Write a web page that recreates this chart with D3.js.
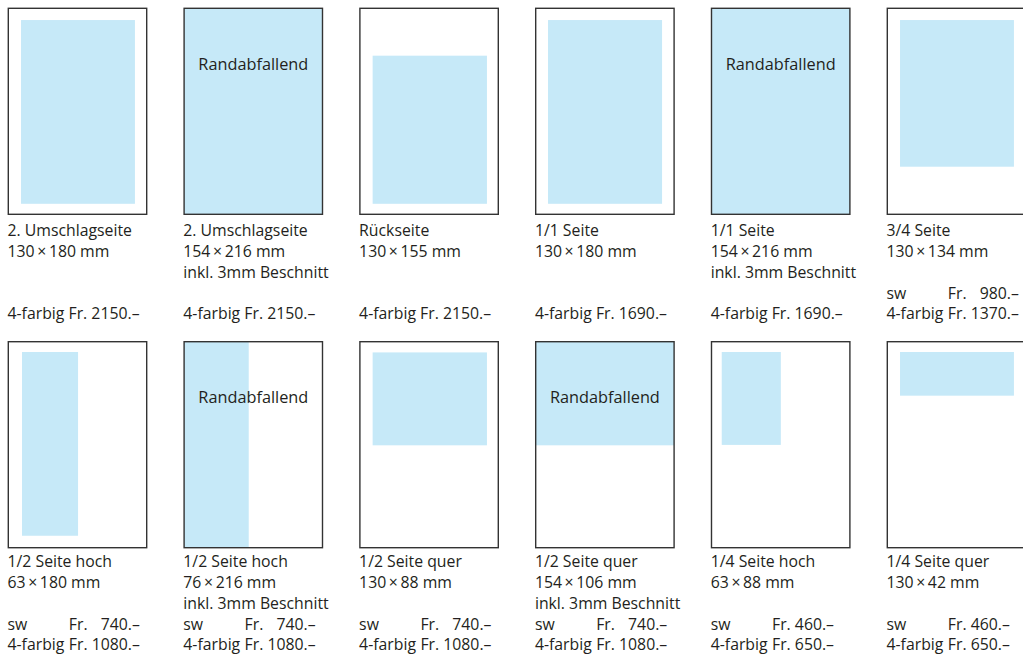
<!DOCTYPE html>
<html>
<head>
<meta charset="utf-8">
<script src="https://cdn.jsdelivr.net/npm/d3@7"></script>
<style>
  body { margin: 0; background: #fff; }
  text { font-family: "Open Sans", "Noto Sans", sans-serif; fill: #231f20; font-variant-numeric: tabular-nums; }
</style>
</head>
<body>
<script>
// ad formats, read row by row
var titles = ["2. Umschlagseite", "2. Umschlagseite", "Rückseite", "1/1 Seite", "1/1 Seite", "3/4 Seite",
              "1/2 Seite hoch", "1/2 Seite hoch", "1/2 Seite quer", "1/2 Seite quer", "1/4 Seite hoch", "1/4 Seite quer"];
var sizes = ["130×180", "154×216", "130×155", "130×180", "154×216", "130×134",
             "63×180", "76×216", "130×88", "154×106", "63×88", "130×42"];
var bleed = [false, true, false, false, true, false,
             false, true, false, true, false, false];
var swPrices = [null, null, null, null, null, "980.–",
                "740.–", "740.–", "740.–", "740.–", "460.–", "460.–"];
var colorPrices = ["2150.–", "2150.–", "2150.–", "1690.–", "1690.–", "1370.–",
                   "1080.–", "1080.–", "1080.–", "1080.–", "650.–", "650.–"];
// ad area on the page drawing, as share of page [left, top, right, bottom]
var adArea = [
  [0.092, 0.057, 0.915, 0.949], [0, 0, 1, 1], [0.092, 0.230, 0.918, 0.949],
  [0.089, 0.057, 0.913, 0.949], [0, 0, 1, 1], [0.092, 0.057, 0.915, 0.769],
  [0.099, 0.050, 0.504, 0.942], [0, 0, 0.467, 1], [0.092, 0.052, 0.918, 0.503],
  [0, 0, 1, 0.503], [0.074, 0.050, 0.501, 0.501], [0.092, 0.050, 0.915, 0.262]
];

var W = 1023, H = 655;
var pageW = 138.4, pageH = 206;

var svg = d3.select("body").append("svg")
    .attr("width", W)
    .attr("height", H);

var items = titles.map(function(t, i) {
  return {i: i, row: Math.floor(i / 6), title: t, size: sizes[i], bleed: bleed[i],
          sw: swPrices[i], color: colorPrices[i], area: adArea[i]};
});

// grid
var col = d3.scaleBand().domain(d3.range(6)).range([8.3, 1025.7]).paddingInner(0.2127);
var row = d3.scaleBand().domain(d3.range(2)).range([8.3, 675.1]);

// inside a page
var px = d3.scaleLinear().domain([0, 1]).range([0, pageW]);
var py = d3.scaleLinear().domain([0, 1]).range([0, pageH]);

var cards = svg.selectAll("g.card")
    .data(items)
  .enter().append("g")
    .attr("class", "card")
    .attr("transform", function(d) {
      return "translate(" + col(d.i % 6) + "," + row(d.row) + ")";
    });

cards.append("rect")
    .attr("x", function(d) { return px(d.area[0]); })
    .attr("y", function(d) { return py(d.area[1]); })
    .attr("width", function(d) { return px(d.area[2]) - px(d.area[0]); })
    .attr("height", function(d) { return py(d.area[3]) - py(d.area[1]); })
    .attr("fill", "#c6e9f8");

cards.append("rect")
    .attr("width", pageW)
    .attr("height", pageH)
    .attr("fill", "none")
    .attr("stroke", "#333")
    .attr("stroke-width", 1.4);

cards.filter(function(d) { return d.bleed; })
  .append("text")
    .attr("x", pageW / 2)
    .attr("y", 61.5)
    .attr("text-anchor", "middle")
    .style("font-size", "16.3px")
    .text("Randabfallend");

// caption lines below the page (second row sits a bit tighter)
var lineY = [228.2, 249.2, 269.8, 290.5, 311];
var rowShift = [0, -2.5];
var fs = "15.8px";
function ly(k) { return function(d) { return lineY[k] + rowShift[d.row]; }; }

var caption = cards.append("g").attr("class", "caption");

caption.append("text")
    .attr("x", -0.8).attr("y", ly(0))
    .style("font-size", fs)
    .text(function(d) { return d.title; });

caption.append("text")
    .attr("x", -0.8).attr("y", ly(1))
    .style("font-size", fs)
    .text(function(d) { return d.size.replace("×", "\u2009×\u2009") + " mm"; });

caption.filter(function(d) { return d.bleed; })
  .append("text")
    .attr("x", -0.8).attr("y", ly(2))
    .style("font-size", fs)
    .text("inkl. 3mm Beschnitt");

// only one price
caption.filter(function(d) { return !d.sw; })
  .append("text")
    .attr("x", -0.8).attr("y", ly(4))
    .style("font-size", fs)
    .text(function(d) { return "4-farbig Fr. " + d.color; });

// sw and 4-farbig, prices aligned
var two = caption.filter(function(d) { return d.sw; });
[["sw", "sw", 3], ["4-farbig", "color", 4]].forEach(function(r) {
  var t = two.append("text")
      .attr("y", ly(r[2]))
      .style("font-size", fs);
  t.append("tspan")
      .attr("x", -0.8)
      .text(r[0]);
  t.append("tspan")
      .attr("x", 60.5)
      .text(function(d) {
        var v = d[r[1]], n = Math.max(d.sw.length, d.color.length) - v.length;
        return "Fr. " + "\u2007".repeat(n) + v;
      });
});
</script>
</body>
</html>
